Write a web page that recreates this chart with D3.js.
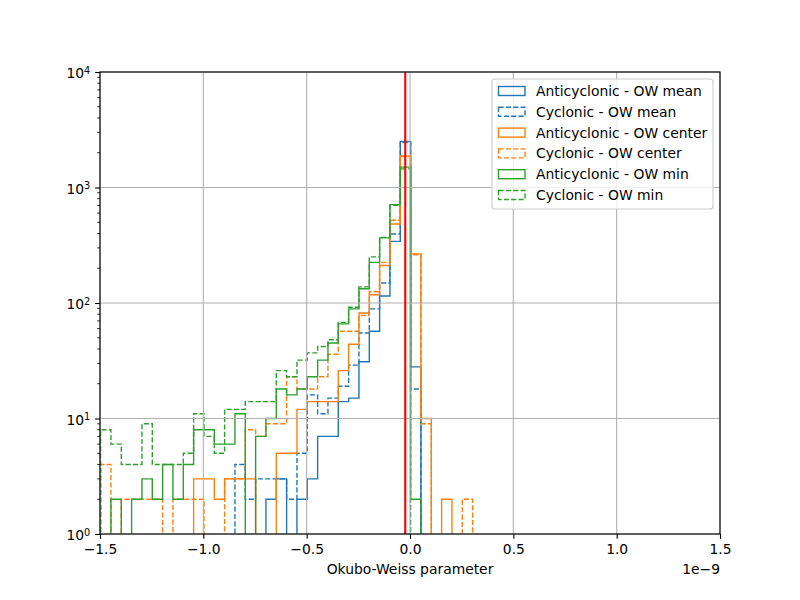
<!DOCTYPE html>
<html>
<head>
<meta charset="utf-8">
<script src="https://cdn.jsdelivr.net/npm/d3@7"></script>
<style>
  body { margin: 0; background: #fff; }
  text { font-family: "DejaVu Sans", sans-serif; }
</style>
</head>
<body>
<div id="chart"></div>
<script>
// histogram bins, x in units of 1e-9
const binStart = -1.497, binWidth = 0.05, nBins = 36;
const binEdges = d3.range(nBins + 1).map(i => binStart + i * binWidth);

// counts per bin (0 = empty)
const antiMean   = [0,0,0,0,0,0,0,0,0,0,0,0,0,0,0,0,2,3,0,2,3,7,7,14,15,31,57,115,342,2500,28,0,0,0,0,0];
const cycMean    = [0,0,0,0,0,0,0,0,0,0,0,0,0,4,2,3,3,3,2,5,16,11,15,19,29,55,89,149,396,2450,18,0,0,0,0,0];
const antiCenter = [0,0,0,0,0,0,0,0,0,3,3,2,3,3,3,0,0,5,5,12,14,14,14,26,44,82,118,211,483,1880,266,10,0,2,0,0];
const cycCenter  = [4,0,2,2,2,2,0,2,2,2,0,0,3,3,8,7,9,9,23,18,18,23,36,57,57,78,125,225,520,1850,262,9,0,0,0,2];
const antiMin    = [0,2,0,2,3,2,4,2,4,8,8,6,6,11,0,7,10,18,16,18,23,32,45,66,89,133,225,366,710,1500,2,0,0,0,0,0];
const cycMin     = [8,6,4,4,9,4,4,4,5,11,7,5,12,12,14,14,14,26,23,32,37,42,48,68,92,138,251,370,700,1450,0,0,0,0,0,0];

const seriesNames = ["Anticyclonic - OW mean", "Cyclonic - OW mean", "Anticyclonic - OW center",
                     "Cyclonic - OW center", "Anticyclonic - OW min", "Cyclonic - OW min"];
const seriesData = [antiMean, cycMean, antiCenter, cycCenter, antiMin, cycMin];
const seriesColors = ["#1f77b4", "#1f77b4", "#ff7f0e", "#ff7f0e", "#2ca02c", "#2ca02c"];
const seriesDashed = [false, true, false, true, false, true];

const threshold = -0.023;
const xTicks = [-1.5, -1.0, -0.5, 0.0, 0.5, 1.0, 1.5];
const yTicks = [1, 10, 100, 1000, 10000];

const W = 800, H = 600;
const margin = {top: 72, right: 80, bottom: 66, left: 100};
const width = W - margin.left - margin.right,
      height = H - margin.top - margin.bottom;
const pt = 100 / 72;
const fs = 10 * pt;

const svg = d3.select("#chart").append("svg")
    .attr("width", W).attr("height", H);

const xScale = d3.scaleLinear().domain([-1.5, 1.5]).range([margin.left, margin.left + width]);
const yScale = d3.scaleLog().domain([1, 1e4]).range([margin.top + height, margin.top]);

svg.append("clipPath").attr("id", "plotclip")
  .append("rect")
    .attr("x", margin.left).attr("y", margin.top)
    .attr("width", width).attr("height", height);

// step outline for a histogram, empty bins drop below the axis
const yOf = v => v > 0 ? yScale(v) : margin.top + height + 20;
function stepPoints(counts) {
    const pts = [[xScale(binEdges[0]), yOf(0)]];
    counts.forEach((c, i) => {
        pts.push([xScale(binEdges[i]), yOf(c)]);
        pts.push([xScale(binEdges[i + 1]), yOf(c)]);
    });
    pts.push([xScale(binEdges[nBins]), yOf(0)]);
    return pts;
}

const line = d3.line();
const histLw = 1.0 * pt;
const dash = `${3.7 * pt},${1.6 * pt}`;

const histG = svg.append("g").attr("clip-path", "url(#plotclip)");
seriesData.forEach((counts, i) => {
    histG.append("path")
        .attr("d", line(stepPoints(counts)))
        .attr("fill", "none")
        .attr("stroke", seriesColors[i])
        .attr("stroke-width", histLw)
        .attr("stroke-linejoin", "miter")
        .attr("stroke-dasharray", seriesDashed[i] ? dash : null);
});

// grid
const gridG = svg.append("g");
gridG.selectAll(".gx").data(xTicks).enter().append("line")
    .attr("x1", d => xScale(d)).attr("x2", d => xScale(d))
    .attr("y1", margin.top).attr("y2", margin.top + height)
    .attr("stroke", "#b0b0b0").attr("stroke-width", 0.8 * pt);
gridG.selectAll(".gy").data(yTicks).enter().append("line")
    .attr("x1", margin.left).attr("x2", margin.left + width)
    .attr("y1", d => yScale(d)).attr("y2", d => yScale(d))
    .attr("stroke", "#b0b0b0").attr("stroke-width", 0.8 * pt);

// threshold line
svg.append("line")
    .attr("x1", xScale(threshold)).attr("x2", xScale(threshold))
    .attr("y1", margin.top).attr("y2", margin.top + height)
    .attr("stroke", "red").attr("stroke-width", 1.5 * pt);

// axes
const xAxis = d3.axisBottom(xScale).tickValues(xTicks)
    .tickSize(3.5 * pt).tickPadding(3.5 * pt)
    .tickFormat(d3.format(".1f"));
const xAxisG = svg.append("g")
    .attr("transform", `translate(0,${margin.top + height})`)
    .call(xAxis);
xAxisG.select(".domain").remove();
xAxisG.selectAll(".tick line").attr("stroke-width", 0.8 * pt);
xAxisG.selectAll(".tick text").attr("font-size", fs).attr("font-family", "DejaVu Sans").attr("fill", "#000");

const yAxis = d3.axisLeft(yScale).tickValues(yTicks)
    .tickSize(3.5 * pt).tickPadding(3.5 * pt);
const yAxisG = svg.append("g")
    .attr("transform", `translate(${margin.left},0)`)
    .call(yAxis);
yAxisG.select(".domain").remove();
yAxisG.selectAll(".tick line").attr("stroke-width", 0.8 * pt);
yAxisG.selectAll(".tick text")
    .attr("font-size", fs).attr("font-family", "DejaVu Sans").attr("fill", "#000")
    .attr("dy", "0.4em")
    .each(function(d) {
        const t = d3.select(this);
        t.text(null);
        t.append("tspan").text("10");
        t.append("tspan").attr("dy", "-0.42em").attr("font-size", fs * 0.7)
            .text(Math.round(Math.log10(d)));
    });

// minor y ticks
const minor = [];
[1, 10, 100, 1000].forEach(dec => d3.range(2, 10).forEach(m => minor.push(m * dec)));
svg.append("g").selectAll("line").data(minor).enter().append("line")
    .attr("x1", margin.left - 2 * pt).attr("x2", margin.left)
    .attr("y1", d => yScale(d)).attr("y2", d => yScale(d))
    .attr("stroke", "#000").attr("stroke-width", 0.6 * pt);

// spines
svg.append("rect")
    .attr("x", margin.left).attr("y", margin.top)
    .attr("width", width).attr("height", height)
    .attr("fill", "none").attr("stroke", "#000").attr("stroke-width", 0.8 * pt);

// labels
svg.append("text")
    .attr("x", margin.left + width / 2).attr("y", 573.5)
    .attr("text-anchor", "middle").attr("font-size", fs)
    .text("Okubo-Weiss parameter");
svg.append("text")
    .attr("x", margin.left + width).attr("y", 573.5)
    .attr("text-anchor", "end").attr("font-size", fs)
    .text("1e\u22129");

// legend
const lgX = 492, lgY = 79, lgW = 221, lgH = 130, rowH = 20.8;
const legend = svg.append("g");
legend.append("rect")
    .attr("x", lgX).attr("y", lgY).attr("width", lgW).attr("height", lgH)
    .attr("rx", 3).attr("ry", 3)
    .attr("fill", "#fff").attr("fill-opacity", 0.8)
    .attr("stroke", "#cccccc").attr("stroke-width", 0.8 * pt);

seriesNames.forEach((name, i) => {
    const cy = 91 + i * rowH;
    legend.append("rect")
        .attr("x", 498.5).attr("y", cy - 4.5)
        .attr("width", 26.5).attr("height", 9)
        .attr("fill", "none")
        .attr("stroke", seriesColors[i])
        .attr("stroke-width", histLw)
        .attr("stroke-dasharray", seriesDashed[i] ? dash : null);
    legend.append("text")
        .attr("x", 536).attr("y", cy + 5)
        .attr("font-size", fs)
        .text(name);
});
</script>
</body>
</html>
